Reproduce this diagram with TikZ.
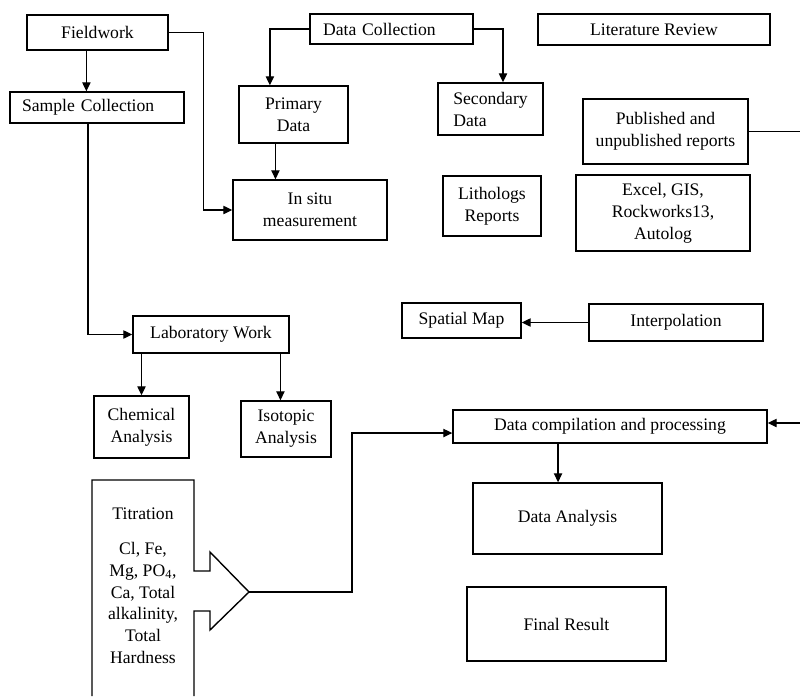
\documentclass[tikz,border=0pt]{standalone}
\usepackage{fontspec}
\setmainfont{Liberation Serif}
\usetikzlibrary{arrows.meta}

\begin{document}
\begin{tikzpicture}[x=0.72pt, y=-0.72pt, line width=0.9pt,
  box/.style={draw, line width=1pt, align=center, font=\fontsize{12.7}{15.8}\selectfont},
  wh/.style 2 args={minimum width=#1*0.72pt, minimum height=#2*0.72pt},
  >={Triangle[length=6.5pt,width=6pt]}]
  \useasboundingbox (0,0) rectangle (800,696);

  \node[box, wh={141}{35}] (field)  at (97.5,32.5) {Fieldwork} ;
  \node[box, wh={174}{31}, text width=108pt, inner xsep=8.6pt, align=left] (sample) at (97,107.5) {Sample Collection} ;
  \node[box, wh={163}{30}, text width=98.6pt, inner xsep=9.4pt, align=left] (datacol) at (391.5,29) {Data Collection} ;
  \node[box, wh={232}{31}] (litrev) at (654,29.5) {Literature Review} ;
  \node[box, wh={109}{57}] (primary) at (293.5,114.5) {Primary\\Data} ;
  \node[box, wh={154}{60}] (insitu) at (310,210) {In situ\\measurement} ;
  \node[box, wh={105}{52}, align=left] (secondary) at (490.5,109) {Secondary\\Data} ;
  \node[box, wh={165}{65}] (published) at (665.5,131.5) {Published and\\unpublished reports} ;
  \node[box, wh={98}{60}] (litho) at (492,206) {Lithologs\\Reports} ;
  \node[box, wh={174}{76}] (excel) at (663,213) {Excel, GIS,\\Rockworks13,\\Autolog} ;
  \node[box, wh={156}{37}] (lab) at (211,334.5) {Laboratory Work} ;
  \node[box, wh={95}{62}] (chem) at (141.5,427) {Chemical\\Analysis} ;
  \node[box, wh={90}{56}] (iso) at (286,429) {Isotopic\\Analysis} ;
  \node[box, wh={119}{35}] (spatial) at (461.5,320.5) {Spatial Map} ;
  \node[box, wh={174}{37}] (interp) at (676,322.5) {Interpolation} ;
  \node[box, wh={314}{33}] (datacomp) at (610,426.5) {Data compilation and processing} ;
  \node[box, wh={189}{71}] (analysis) at (567.5,518.5) {Data Analysis} ;
  \node[box, wh={199}{74}] (final) at (566.5,624) {Final Result} ;

  % titration box with block arrow
  \draw[line width=1pt] (92,696) -- (92,480) -- (194,480) -- (194,571) -- (210,571) -- (210,552)
    -- (249,592) coordinate (ttip) -- (210,630) -- (210,611) -- (194,611) -- (194,696) ;
  \node[box, draw=none] (titr) at (143,586) {Titration\\[9pt]Cl, Fe,\\Mg, PO\textsubscript{4},\\Ca, Total\\alkalinity,\\Total\\Hardness} ;

  \coordinate (pubout) at (800,131.5) ;
  \coordinate (compin) at (800,423) ;

  \draw[->] ([xshift=-8pt]field.south) -- ([xshift=-8pt]field.south |- sample.north) ;
  \draw[->] (field.east) -- ++(35,0) |- (insitu.west) ;
  \draw[->] (datacol.west) -| ([xshift=-17pt]primary.north) ;
  \draw[->] (datacol.east) -| ([xshift=9pt]secondary.north) ;
  \draw[->] ([xshift=-13pt]primary.south) -- ([xshift=-13pt]primary.south |- insitu.north) ;
  \draw[->] ([xshift=-6.5pt]sample.south) |- (lab.west) ;
  \draw[->] (lab.south -| chem.north) -- (chem.north) ;
  \draw[->] ([xshift=-4pt]iso.north |- lab.south) -- ([xshift=-4pt]iso.north) ;
  \draw[->] (interp.west) -- (interp.west -| spatial.east) ;
  \draw[->] ([xshift=-6.8pt]analysis.north |- datacomp.south) -- ([xshift=-6.8pt]analysis.north) ;
  \draw[->] (ttip) -- ++(103,0) |- ([yshift=-4.7pt]datacomp.west) ;
  \draw[line width=0.6pt] (published.east) -- (pubout) ;
  \draw[->] (compin) -- (compin -| datacomp.east) ;

\end{tikzpicture}
\end{document}
